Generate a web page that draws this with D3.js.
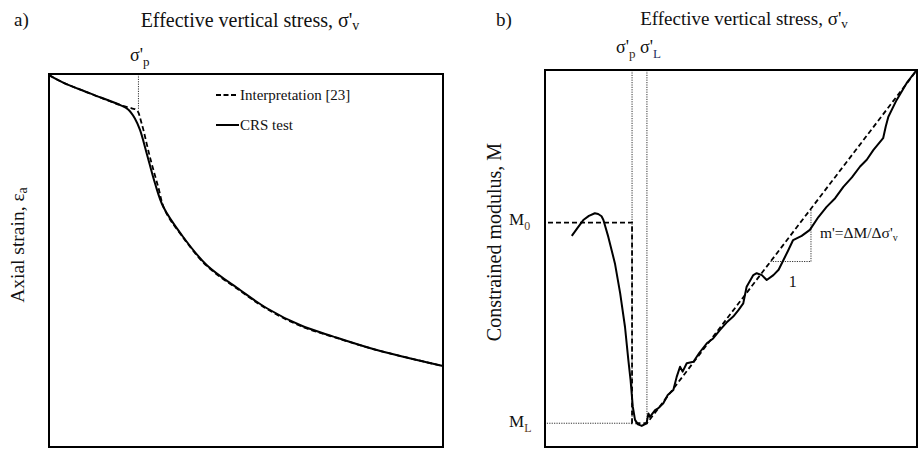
<!DOCTYPE html>
<html>
<head>
<meta charset="utf-8">
<script src="https://cdn.jsdelivr.net/npm/d3@7"></script>
<style>
html,body{margin:0;padding:0;background:#fff;}
</style>
</head>
<body>
<svg id="chart" width="918" height="449"></svg>
<script>
// ---------- DATA (arbitrary normalised units) ----------
// Panel a: stress (0-100) vs axial strain (0 top -> 100 bottom)
const aCrsStress  = [0, 3.6, 10.4, 18.0, 20.1, 21.8, 23.1, 24.8, 26.9, 29.0, 33.7, 40.0, 48.5, 55.3, 63.7, 72.2, 83.2, 100];
const aCrsStrain  = [0.3, 2.3, 5.2, 8.3, 9.5, 11.9, 15.0, 21.3, 29.3, 35.6, 43.2, 51.2, 57.9, 62.8, 67.3, 70.4, 74.0, 78.3];
const aIntStress  = [0, 3.6, 10.4, 18.0, 21.0, 22.3, 23.5, 25.6, 27.7, 29.4, 33.8, 40.0, 48.5, 55.3, 63.7, 72.2, 83.2, 100];
const aIntStrain  = [0.3, 2.3, 5.2, 8.3, 9.2, 9.7, 13.2, 22.2, 30.2, 36.5, 43.5, 51.4, 58.1, 63.0, 67.5, 70.5, 74.0, 78.3];
const aSigmaP = 22.7, aSigmaPStrain = 9.7;
const legendLabels = ["Interpretation [23]", "CRS test"];

// Panel b: stress (0-100) vs constrained modulus (0 bottom -> 100 top)
const bCrsStress  = [7.2, 8.8, 10.3, 11.8, 13.4, 14.3, 15.2, 15.7, 17.0, 18.8, 20.2, 21.5, 22.4, 23.0, 23.6, 24.2, 25.0, 26.0, 27.3, 27.8, 28.2, 29.6, 30.5, 31.8, 33.0, 34.5, 35.4, 36.3, 37.0, 38.1, 39.9, 41.5, 43.5, 45.2, 47.0, 48.8, 50.6, 52.0, 53.3, 54.2, 56.0, 56.9, 58.3, 59.6, 61.4, 62.8, 64.1, 65.3, 66.7, 69.0, 71.2, 73.5, 75.7, 78.0, 80.2, 82.5, 84.7, 86.5, 88.3, 90.9, 91.6, 92.3, 94.5, 97.2, 99.9];
const bCrsModulus = [56.0, 58.2, 60.2, 61.3, 62.0, 61.8, 61.2, 60.2, 55.8, 48.7, 40.8, 31.9, 23.1, 17.8, 10.7, 7.2, 6.0, 5.6, 6.3, 8.9, 8.0, 9.8, 10.3, 11.6, 13.8, 15.1, 18.6, 21.3, 20.0, 22.2, 22.6, 25.0, 27.5, 28.8, 31.0, 33.0, 34.6, 36.3, 38.1, 42.5, 45.6, 46.1, 45.6, 44.3, 45.6, 47.0, 49.6, 52.0, 54.9, 56.0, 57.6, 61.0, 63.7, 66.0, 69.0, 71.5, 74.4, 76.2, 78.8, 81.9, 85.0, 87.6, 92.0, 96.5, 100];
const bIntStress  = [0.8, 23.4, 23.4, 27.4, 100];
const bIntModulus = [59.5, 59.5, 6.3, 6.3, 100];
const bSigmaP = 23.4, bSigmaL = 27.4, bM0 = 59.5, bML = 6.3;
const bSlope = {left: 60.6, right: 71.5, bottom: 49.2, top: 63.2};

// ---------- LAYOUT ----------
const SERIF = "'Liberation Serif', 'Times New Roman', serif";
const svg = d3.select("#chart").attr("font-family", SERIF);

function zip(xs, ys){ return xs.map((x,i)=>[x, ys[i]]); }
function txt(g, x, y, size){
  return g.append("text").attr("x",x).attr("y",y).attr("font-size",size)
    .attr("font-family",SERIF).attr("fill","#111");
}

// ================= Panel a =================
const ax = d3.scaleLinear().domain([0,100]).range([49,443]);
const ay = d3.scaleLinear().domain([0,100]).range([74,447]);
const ga = svg.append("g");

const lineA = d3.line().x(d=>ax(d[0])).y(d=>ay(d[1])).curve(d3.curveCatmullRom.alpha(0.5));

ga.append("line").attr("x1",ax(aSigmaP)).attr("x2",ax(aSigmaP))
  .attr("y1",ay(0)).attr("y2",ay(aSigmaPStrain))
  .attr("stroke","#333").attr("stroke-width",1).attr("stroke-dasharray","1.2,1.2");

ga.append("path").datum(zip(aIntStress,aIntStrain)).attr("d",lineA)
  .attr("fill","none").attr("stroke","#000").attr("stroke-width",1.8).attr("stroke-dasharray","5,3");
ga.append("path").datum(zip(aCrsStress,aCrsStrain)).attr("d",lineA)
  .attr("fill","none").attr("stroke","#000").attr("stroke-width",2);

ga.append("rect").attr("x",ax(0)).attr("y",ay(0)).attr("width",ax(100)-ax(0)).attr("height",ay(100)-ay(0))
  .attr("fill","none").attr("stroke","#000").attr("stroke-width",2);

// legend
ga.append("line").attr("x1",216).attr("x2",236).attr("y1",95).attr("y2",95)
  .attr("stroke","#000").attr("stroke-width",1.8).attr("stroke-dasharray","5,2.5");
txt(ga,240,100,15).text(legendLabels[0]);
ga.append("line").attr("x1",216).attr("x2",239).attr("y1",125).attr("y2",125)
  .attr("stroke","#000").attr("stroke-width",2);
txt(ga,240,130,15).text(legendLabels[1]);

// labels
txt(ga,14,26,19).text("a)");
const ta = txt(ga,250,27,20).attr("text-anchor","middle");
ta.append("tspan").text("Effective vertical stress, σ'");
ta.append("tspan").attr("font-size",14).attr("dy",3).text("v");
const sp = txt(ga,130,61,18);
sp.append("tspan").text("σ'");
sp.append("tspan").attr("font-size",13).attr("dy",5).text("p");
const yla = txt(ga,0,0,19.5).attr("transform","translate(24,245) rotate(-90)").attr("text-anchor","middle");
yla.append("tspan").text("Axial strain, ε");
yla.append("tspan").attr("font-size",14).attr("dy",3).text("a");

// ================= Panel b =================
const bx = d3.scaleLinear().domain([0,100]).range([545,917]);
const by = d3.scaleLinear().domain([0,100]).range([447,70]);
const gb = svg.append("g");
const lineB = d3.line().x(d=>bx(d[0])).y(d=>by(d[1]));

const dotted = (x1,y1,x2,y2)=>gb.append("line").attr("x1",x1).attr("y1",y1).attr("x2",x2).attr("y2",y2)
  .attr("stroke","#333").attr("stroke-width",1).attr("stroke-dasharray","1.2,1.2");
dotted(bx(bSigmaP), by(100), bx(bSigmaP), by(bML));
dotted(bx(bSigmaL), by(100), bx(bSigmaL), by(bML));
dotted(bx(0.5), by(bML), bx(bSigmaP), by(bML));
dotted(bx(bSlope.left), by(bSlope.bottom), bx(bSlope.right), by(bSlope.bottom));
dotted(bx(bSlope.right), by(bSlope.bottom), bx(bSlope.right), by(bSlope.top));

gb.append("path").datum(zip(bIntStress,bIntModulus)).attr("d",lineB)
  .attr("fill","none").attr("stroke","#000").attr("stroke-width",1.8).attr("stroke-dasharray","5,3");
gb.append("path").datum(zip(bCrsStress,bCrsModulus)).attr("d",lineB)
  .attr("fill","none").attr("stroke","#000").attr("stroke-width",2).attr("stroke-linejoin","round");

gb.append("rect").attr("x",bx(0)).attr("y",by(100)).attr("width",bx(100)-bx(0)).attr("height",by(0)-by(100))
  .attr("fill","none").attr("stroke","#000").attr("stroke-width",2);

txt(gb,496,26,19).text("b)");
const tb = txt(gb,744,25,19).attr("text-anchor","middle");
tb.append("tspan").text("Effective vertical stress, σ'");
tb.append("tspan").attr("font-size",13).attr("dy",3).text("v");
const sbp = txt(gb,616,53,18);
sbp.append("tspan").text("σ'");
sbp.append("tspan").attr("font-size",13).attr("dy",5).attr("fill","#3a2a1a").text("p");
const sbl = txt(gb,640,53,18);
sbl.append("tspan").text("σ'");
sbl.append("tspan").attr("font-size",13).attr("dy",5).attr("fill","#1f2f5f").text("L");
txt(gb,0,0,20).attr("transform","translate(501,242) rotate(-90)").attr("text-anchor","middle").text("Constrained modulus, M");

const m0 = txt(gb,509,by(bM0)+2.5,17);
m0.append("tspan").text("M");
m0.append("tspan").attr("font-size",12).attr("dy",5).attr("fill","#5a3a1a").text("0");
const ml = txt(gb,509,by(bML)+4,17);
ml.append("tspan").text("M");
ml.append("tspan").attr("font-size",12).attr("dy",5).attr("fill","#5a3a1a").text("L");

txt(gb,bx((bSlope.left+bSlope.right)/2)+2,by(bSlope.bottom)+25,16).attr("text-anchor","middle").text("1");
const mt = txt(gb,bx(bSlope.right)+9,238,15.5);
mt.append("tspan").text("m'=ΔM/Δσ'");
mt.append("tspan").attr("font-size",10).attr("dy",3).text("v");
</script>
</body>
</html>
